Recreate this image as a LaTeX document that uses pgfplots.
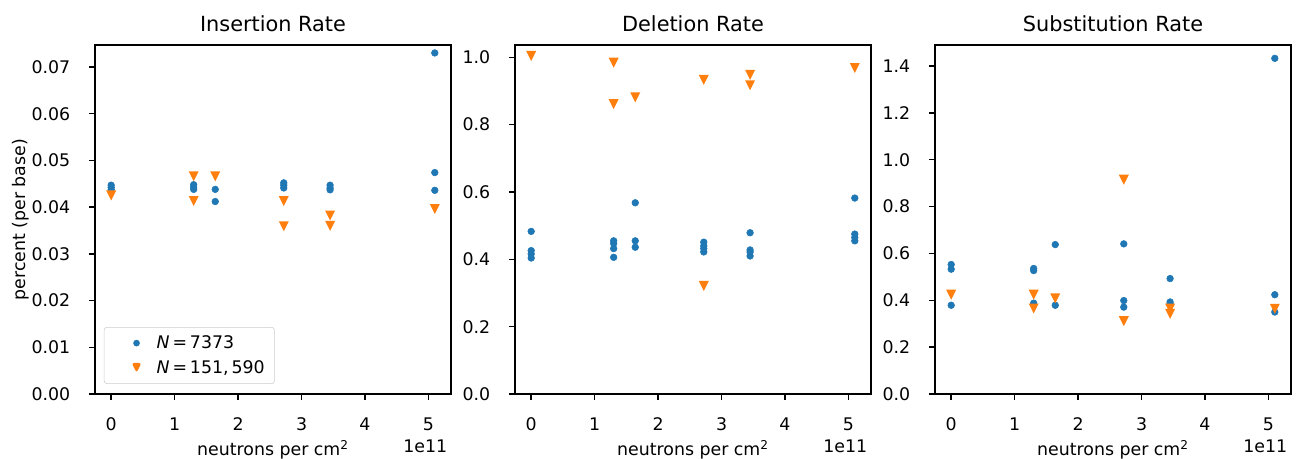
\documentclass[border=0pt]{standalone}
\usepackage{fontspec}
\setmainfont{DejaVu Sans}
\usepackage{pgfplots}
\pgfplotsset{compat=1.18}

\definecolor{mplblue}{HTML}{1F77B4}
\definecolor{mplorange}{HTML}{FF7F0E}

% matplotlib-style "v" marker
\pgfdeclareplotmark{tridown}{%
  \pgfpathmoveto{\pgfqpoint{0pt}{-\pgfplotmarksize}}%
  \pgfpathlineto{\pgfqpoint{-\pgfplotmarksize}{\pgfplotmarksize}}%
  \pgfpathlineto{\pgfqpoint{\pgfplotmarksize}{\pgfplotmarksize}}%
  \pgfpathclose\pgfusepathqfill}

\newcommand{\lblfont}{\fontsize{12.5}{15}\selectfont}

\pgfplotsset{
  panel/.style={
    scale only axis, width=256.3pt, height=251.3pt,
    anchor=south west,
    xmin=-0.255, xmax=5.355, ymin=0,
    xtick={0,1,2,3,4,5},
    tick pos=left, tick align=outside,
    major tick length=4.4pt,
    every tick/.style={black, line width=1pt},
    axis line style={line width=1pt},
    scaled y ticks=false,
    /pgf/number format/assume math mode=true,
    ticklabel style={font=\lblfont},
    xticklabel style={anchor=base, yshift=-22pt},
    yticklabel style={anchor=east, inner sep=0pt, xshift=-13.2pt},
    title style={at={(axis description cs:0.5,1)}, anchor=base, yshift=4pt, font=\fontsize{15}{18}\selectfont},
    xlabel={neutrons per cm\textsuperscript{2}},
    xlabel style={at={(axis description cs:0.5,0)}, anchor=base, yshift=-44.3pt, font=\lblfont},
    clip=false,
  },
  blu/.style={only marks, mark=*, mark size=2.4pt, color=mplblue, mark options={draw=none, fill=mplblue},
    legend image code/.code={\path[draw=none] (0pt,0pt) -- (30.8pt,0pt); \fill[mplblue, draw=none] (18.3pt,0pt) circle[radius=2.4pt];}},
  org/.style={only marks, mark=tridown, mark size=3.6pt, color=mplorange, mark options={draw=none, fill=mplorange},
    legend image code/.code={\path[draw=none] (0pt,0pt) -- (30.8pt,0pt); \fill[mplorange, draw=none] (14.7pt,3.6pt) -- (21.9pt,3.6pt) -- (18.3pt,-3.6pt) -- cycle;}},
}

\newcommand{\offsettext}{\node[anchor=base east, inner sep=0pt, font=\lblfont] at (axis description cs:0.99,0) [yshift=-42pt] {1e11};}

\begin{document}
\begin{tikzpicture}
\path[use as bounding box] (-68.4pt,-46.1pt) rectangle (867.6pt,283.7pt);

\begin{axis}[panel, at={(0pt,0pt)},
  title={Insertion Rate},
  ymax=0.0747,
  ytick={0,0.01,0.02,0.03,0.04,0.05,0.06,0.07},
  yticklabel style={/pgf/number format/fixed, /pgf/number format/fixed zerofill, /pgf/number format/precision=2},
  ylabel={percent (per base)},
  ylabel style={at={(axis description cs:-0.2091,0.5)}, anchor=center, font=\lblfont},
  legend style={at={(axis description cs:0.025,0.029)}, anchor=south west,
    draw=black!20, rounded corners=2pt, fill=white,
    font=\lblfont, row sep=3pt, inner xsep=5pt, inner ysep=4pt,
    /tikz/every even column/.append style={column sep=7pt}},
  legend cell align=left,
]
\addplot[blu] coordinates {(0,0.0447)(0,0.0442)(0,0.0437)(1.3,0.0448)(1.3,0.0443)(1.3,0.0438)(1.64,0.0438)(1.64,0.0412)(2.72,0.0452)(2.72,0.0447)(2.72,0.0441)(3.45,0.0447)(3.45,0.0441)(3.45,0.0437)(5.1,0.0730)(5.1,0.0474)(5.1,0.0436)};
\addlegendentry{\textit{N}\,=\,7373}
\addplot[org] coordinates {(0,0.0425)(1.3,0.0466)(1.3,0.0413)(1.64,0.0466)(2.72,0.0413)(2.72,0.0359)(3.45,0.0382)(3.45,0.0360)(5.1,0.0396)};
\addlegendentry{\textit{N}\,=\,151,\,590}
\offsettext
\end{axis}

\begin{axis}[panel, at={(302.4pt,0pt)},
  title={Deletion Rate},
  ymax=1.0366,
  ytick={0,0.2,0.4,0.6,0.8,1.0},
  yticklabel style={/pgf/number format/fixed, /pgf/number format/fixed zerofill, /pgf/number format/precision=1},
]
\addplot[blu] coordinates {(0,0.483)(0,0.426)(0,0.416)(0,0.404)(1.3,0.455)(1.3,0.447)(1.3,0.432)(1.3,0.406)(1.64,0.568)(1.64,0.455)(1.64,0.436)(2.72,0.451)(2.72,0.440)(2.72,0.432)(2.72,0.422)(3.45,0.479)(3.45,0.428)(3.45,0.422)(3.45,0.410)(5.1,0.582)(5.1,0.475)(5.1,0.465)(5.1,0.455)};
\addplot[org] coordinates {(0,1.004)(1.3,0.984)(1.3,0.861)(1.64,0.881)(2.72,0.933)(2.72,0.321)(3.45,0.948)(3.45,0.917)(5.1,0.968)};
\offsettext
\end{axis}

\begin{axis}[panel, at={(604.8pt,0pt)},
  title={Substitution Rate},
  ymax=1.49,
  ytick={0,0.2,0.4,0.6,0.8,1.0,1.2,1.4},
  yticklabel style={/pgf/number format/fixed, /pgf/number format/fixed zerofill, /pgf/number format/precision=1},
]
\addplot[blu] coordinates {(0,0.553)(0,0.533)(0,0.379)(1.3,0.536)(1.3,0.527)(1.3,0.388)(1.64,0.638)(1.64,0.379)(2.72,0.641)(2.72,0.399)(2.72,0.371)(3.45,0.493)(3.45,0.393)(3.45,0.385)(5.1,1.433)(5.1,0.424)(5.1,0.350)};
\addplot[org] coordinates {(0,0.424)(1.3,0.424)(1.3,0.365)(1.64,0.408)(2.72,0.915)(2.72,0.311)(3.45,0.365)(3.45,0.342)(5.1,0.364)};
\offsettext
\end{axis}
\end{tikzpicture}
\end{document}
